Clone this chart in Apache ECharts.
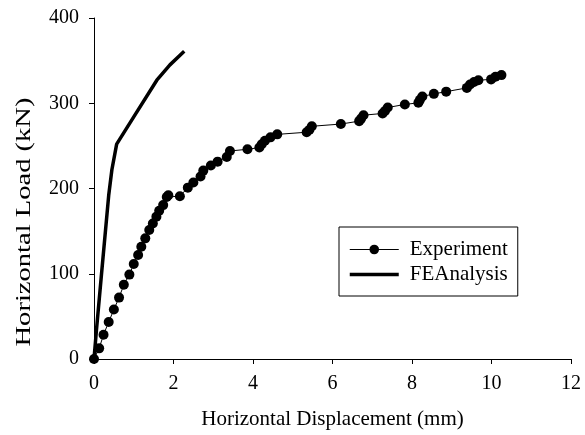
<!DOCTYPE html>
<html>
<head>
<meta charset="utf-8">
<script src="https://cdn.jsdelivr.net/npm/echarts@6/dist/echarts.min.js"></script>
<style>html,body{margin:0;padding:0;background:#fff;}#c{width:585px;height:435px;}</style>
</head>
<body>
<div id="c"></div>
<script>
const xTicks = [0, 2, 4, 6, 8, 10, 12];
const yTicks = [0, 100, 200, 300, 400];
const seriesNames = ['Experiment', 'FEAnalysis'];
const xTitle = 'Horizontal Displacement (mm)';
const yTitle = 'Horizontal Load (kN)';
const experiment = [
  [0,0],[0.13,12.5],[0.24,28.5],[0.37,43.5],[0.50,58],[0.63,72],[0.75,87],[0.89,99],
  [1.0,111.5],[1.11,122],[1.19,131.7],[1.29,141.5],[1.39,151.3],[1.48,159],[1.57,167],
  [1.64,174],[1.74,180.5],[1.83,190],[1.87,192],[2.16,191],[2.36,201],[2.50,207],
  [2.68,214],[2.75,221],[2.94,227],[3.11,231.5],[3.34,237],[3.42,244],[3.86,246],
  [4.16,248],[4.22,252],[4.30,256],[4.44,260],[4.61,263.5],[5.35,266],[5.42,269],
  [5.48,273],[6.21,275.6],[6.67,279],[6.72,282],[6.78,286],[7.26,288],[7.32,291],
  [7.39,295],[7.82,298.6],[8.16,300.5],[8.20,304],[8.26,308],[8.55,311],[8.86,313.6],
  [9.38,318],[9.46,322],[9.56,325],[9.67,327],[9.99,328],[10.1,331],[10.25,333]
];
const feAnalysis = [
  [0,0],[0.06,33],[0.18,95],[0.37,192],[0.45,222],[0.57,252],[1.0,284],[1.58,327],[1.91,345],[2.27,361]
];

const FONT = 'Liberation Serif';
const chart = echarts.init(document.getElementById('c'), null, {renderer: 'canvas'});
chart.setOption({
  animation: false,
  backgroundColor: '#fff',
  grid: {left: 94, right: 14, top: 18, bottom: 76},
  legend: {
    left: 339, top: 227,
    orient: 'vertical',
    data: [
      {name: seriesNames[0], lineStyle: {width: 1}},
      {name: seriesNames[1], itemStyle: {color: 'rgba(0,0,0,0)', borderWidth: 0}, lineStyle: {width: 3.5, color: '#000'}}
    ],
    backgroundColor: '#fff',
    borderColor: '#000', borderWidth: 1,
    padding: [12, 10, 11, 9],
    itemWidth: 49, itemHeight: 12, itemGap: 4,
    textStyle: {fontFamily: FONT, fontSize: 21, color: '#000', padding: [0, 0, 0, 6]}
  },
  graphic: [{
    type: 'text',
    x: 24, y: 222,
    rotation: Math.PI / 2,
    scaleX: 1.36,
    style: {
      text: yTitle, fontFamily: FONT, fontSize: 21, fill: '#000',
      align: 'center', verticalAlign: 'middle'
    }
  }],
  xAxis: {
    type: 'value', min: 0, max: 12, interval: 2,
    name: xTitle, nameLocation: 'middle', nameGap: 50,
    nameTextStyle: {fontFamily: FONT, fontSize: 21, color: '#000'},
    axisLine: {onZero: false, lineStyle: {color: '#000', width: 1}},
    axisTick: {show: true, inside: false, length: 5, lineStyle: {color: '#000'}},
    axisLabel: {fontFamily: FONT, fontSize: 20, color: '#000', margin: 15,
      formatter: v => xTicks.includes(v) ? String(v) : ''},
    splitLine: {show: false}
  },
  yAxis: {
    type: 'value', min: 0, max: 400, interval: 100,
    axisLine: {show: true, onZero: false, lineStyle: {color: '#000', width: 1}},
    axisTick: {show: true, inside: false, length: 5, lineStyle: {color: '#000'}},
    axisLabel: {fontFamily: FONT, fontSize: 20, color: '#000', margin: 15,
      formatter: v => yTicks.includes(v) ? String(v) : ''},
    splitLine: {show: false}
  },
  series: [
    {
      name: seriesNames[0], type: 'line', data: experiment,
      symbol: 'circle', symbolSize: 10, showSymbol: true,
      lineStyle: {color: '#000', width: 1},
      itemStyle: {color: '#000', borderWidth: 0},
      z: 3
    },
    {
      name: seriesNames[1], type: 'line', data: feAnalysis,
      symbol: 'none',
      lineStyle: {color: '#000', width: 3.5},
      itemStyle: {color: '#000'},
      z: 2
    }
  ]
});
</script>
</body>
</html>
